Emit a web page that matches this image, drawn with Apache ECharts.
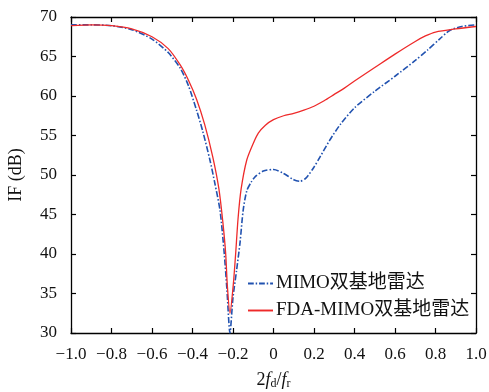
<!DOCTYPE html>
<html lang="zh">
<head>
<meta charset="UTF-8">
<title>IF</title>
<script src="https://cdn.jsdelivr.net/npm/echarts@6/dist/echarts.min.js"></script>
<style>
	html, body { margin: 0; padding: 0; background: #fff; }
	#main { width: 489px; height: 392px; }
</style>
</head>
<body>
<div id="main"></div>
<script>
	// 读图得到的数据 (x = 2fd/fr, y = IF dB)
	const seriesNames = ['MIMO双基地雷达', 'FDA-MIMO双基地雷达'];
	const mimoData = [
		[-1, 69.0], [-0.9, 69.0], [-0.8, 68.9], [-0.7, 68.4], [-0.6, 67.2], [-0.52, 65.5],
		[-0.46, 63.5], [-0.42, 61.3], [-0.38, 58.2], [-0.35, 55.6], [-0.314, 51.9], [-0.29, 49.0],
		[-0.264, 45.5], [-0.243, 40], [-0.23, 35.5], [-0.215, 30.0], [-0.2, 34.5], [-0.182, 38],
		[-0.165, 41.5], [-0.15, 45.5], [-0.132, 48], [-0.11, 49.1], [-0.09, 49.8], [-0.05, 50.5],
		[0, 50.7], [0.05, 50.2], [0.1, 49.4], [0.13, 49.2], [0.16, 49.6], [0.2, 51],
		[0.23, 52.3], [0.28, 54.5], [0.33, 56.4], [0.4, 58.5], [0.5, 60.6], [0.6, 62.5],
		[0.7, 64.5], [0.76, 65.8], [0.82, 67.2], [0.87, 68.3], [0.93, 68.8], [1, 69.0]
	];
	const fdaData = [
		[-1, 68.9], [-0.9, 69.0], [-0.8, 68.9], [-0.7, 68.5], [-0.6, 67.5], [-0.52, 66.0],
		[-0.46, 63.9], [-0.42, 62.0], [-0.38, 59.6], [-0.34, 56.4], [-0.3, 52.3], [-0.27, 48.3],
		[-0.25, 44.0], [-0.236, 40], [-0.228, 36.0], [-0.215, 32.5], [-0.199, 36.0], [-0.187, 40],
		[-0.175, 44.5], [-0.16, 48.2], [-0.132, 51.9], [-0.1, 54.0], [-0.075, 55.3], [-0.04, 56.3],
		[0, 57.0], [0.05, 57.5], [0.1, 57.8], [0.15, 58.2], [0.2, 58.7], [0.25, 59.4],
		[0.3, 60.2], [0.35, 61], [0.4, 61.9], [0.5, 63.6], [0.6, 65.3], [0.7, 66.9],
		[0.75, 67.6], [0.8, 68.1], [0.9, 68.5], [1, 68.8]
	];

	const font = 'Liberation Serif';
	const blue = '#2152b0';
	const red = '#ee2a2a';

	// 图例里的线段图标
	const dashIcon = 'path://M0,0h6v2h-6z M8,0h1.5v2h-1.5z M11.5,0h6v2h-6z M19.5,0h1.5v2h-1.5z M23,0h3v2h-3z';
	const lineIcon = 'path://M0,0h26v2h-26z';

	function fmtNum(v) {
		if (Math.abs(v) < 1e-9) return '0';
		return (v < 0 ? '\u2212' : '') + Math.abs(v).toFixed(1);
	}

	const baseAxis = {
		axisLine: { show: true, onZero: false, lineStyle: { color: '#000', width: 1.3 } },
		axisTick: { show: true, inside: true, length: 5, lineStyle: { color: '#000', width: 1.2 } },
		splitLine: { show: false }
	};

	const myChart = echarts.init(document.getElementById('main'));
	myChart.setOption({
		animation: false,
		grid: { left: 71, right: 13, top: 17, bottom: 59, outerBoundsMode: 'none', containLabel: false },
		legend: {
			orient: 'vertical',
			left: 248,
			top: 274,
			padding: 0,
			itemWidth: 25,
			itemHeight: 2,
			itemGap: 8,
			textStyle: { fontFamily: font + ', "Noto Sans CJK SC"', fontSize: 19, color: '#111', padding: [0, 0, 0, -2] },
			data: [
				{ name: seriesNames[0], icon: dashIcon },
				{ name: seriesNames[1], icon: lineIcon }
			]
		},
		xAxis: [
			Object.assign({}, baseAxis, {
				type: 'value', min: -1, max: 1, interval: 0.2, position: 'bottom',
				axisLabel: { formatter: fmtNum, fontFamily: font, fontSize: 17, color: '#111', margin: 13 },
				name: '{n|2}{i|f}{s|d}{n|/}{i|f}{s|r}',
				nameLocation: 'middle', nameGap: 38,
				nameTextStyle: {
					rich: {
						n: { fontFamily: font, fontSize: 18, color: '#111' },
						i: { fontFamily: font, fontStyle: 'italic', fontSize: 18, color: '#111' },
						s: { fontFamily: font, fontSize: 12, color: '#111', verticalAlign: 'bottom', padding: [7, 0, 0, 0] }
					}
				}
			}),
			Object.assign({}, baseAxis, {
				type: 'value', min: -1, max: 1, interval: 0.2, position: 'top',
				axisLabel: { show: false }
			})
		],
		yAxis: [
			Object.assign({}, baseAxis, {
				type: 'value', min: 30, max: 70, interval: 5, position: 'left',
				axisLabel: { fontFamily: font, fontSize: 17, color: '#111', margin: 14 },
				name: 'IF (dB)', nameLocation: 'middle', nameGap: 46,
				nameTextStyle: { fontFamily: font, fontSize: 18, color: '#111' }
			}),
			Object.assign({}, baseAxis, {
				type: 'value', min: 30, max: 70, interval: 5, position: 'right',
				axisLabel: { show: false }
			})
		],
		series: [
			{
				name: seriesNames[0], type: 'line', data: mimoData,
				smooth: 0.25, showSymbol: false, symbol: 'none', clip: true,
				lineStyle: { color: blue, width: 1.6, type: [6, 2, 1.5, 2] },
				itemStyle: { color: blue }
			},
			{
				name: seriesNames[1], type: 'line', data: fdaData,
				smooth: 0.25, showSymbol: false, symbol: 'none', clip: true,
				lineStyle: { color: red, width: 1.3 },
				itemStyle: { color: red }
			}
		]
	});
</script>
</body>
</html>
